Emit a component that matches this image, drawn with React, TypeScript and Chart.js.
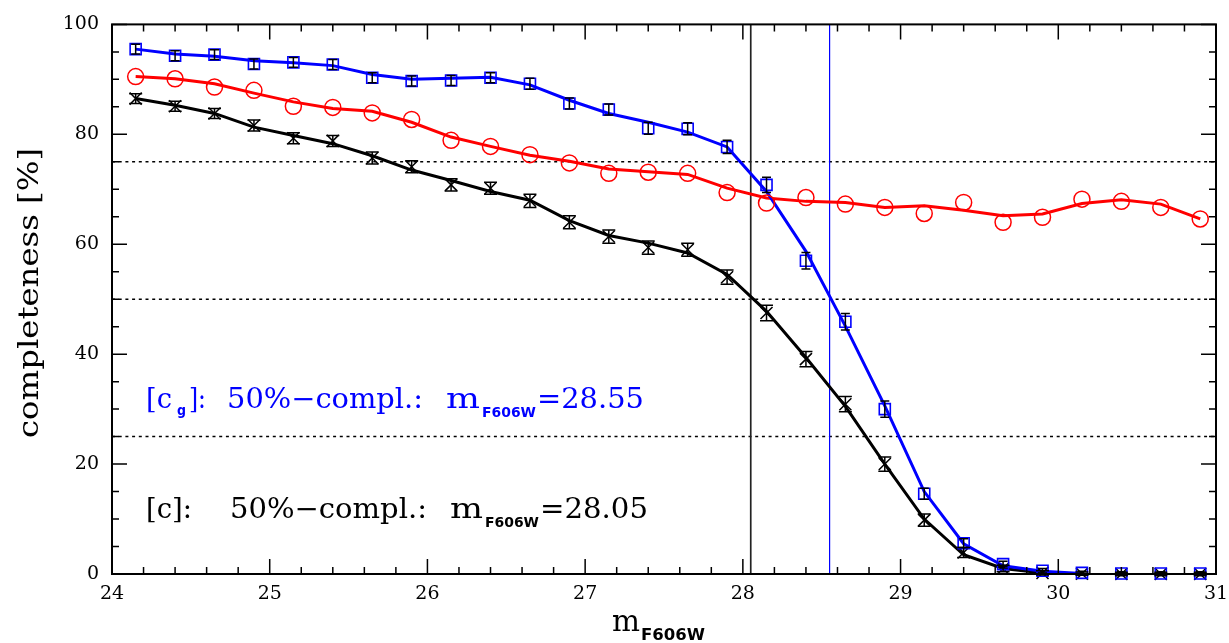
import React, { useEffect, useRef } from "react";
import { Chart, registerables } from "chart.js";
Chart.register(...registerables);

// magnitude bins
const mags = [24.15, 24.4, 24.65, 24.9, 25.15, 25.4, 25.65, 25.9, 26.15, 26.4, 26.65, 26.9, 27.15, 27.4, 27.65, 27.9, 28.15, 28.4, 28.65, 28.9, 29.15, 29.4, 29.65, 29.9, 30.15, 30.4, 30.65, 30.9];

// [c_g] (blue squares)
const blueVals = [95.5, 94.3, 94.5, 92.8, 93.1, 92.7, 90.3, 89.7, 89.8, 90.3, 89.2, 85.6, 84.5, 81.1, 81.0, 77.7, 70.8, 57.0, 45.9, 30.0, 14.6, 5.6, 1.8, 0.6, 0.2, 0.1, 0.1, 0.1];
const blueErr = [0.9, 0.9, 0.9, 0.9, 0.9, 0.9, 0.9, 0.9, 0.9, 0.9, 1.0, 1.0, 1.0, 1.1, 1.1, 1.2, 1.4, 1.5, 1.5, 1.5, 1.0, 0.8, 0.5, 0.4, 0.3, 0.3, 0.3, 0.3];
const blueCurve: (number | null)[] = [95.5, 94.6, 94.2, 93.4, 93.0, 92.5, 90.9, 90.0, 90.2, 90.4, 89.0, 86.2, 83.8, 82.2, 80.4, 77.7, 69.6, 58.7, 45.1, 30.6, 15.0, 5.5, 1.5, 0.5, 0.1, null, null, null];

// second sample (red circles)
const redVals = [90.5, 90.1, 88.6, 88.0, 85.1, 84.9, 83.9, 82.7, 78.9, 77.8, 76.3, 74.8, 72.9, 73.1, 72.9, 69.4, 67.5, 68.5, 67.3, 66.7, 65.6, 67.6, 64.0, 64.9, 68.2, 67.8, 66.7, 64.6];
const redCurve: (number | null)[] = [90.5, 90.1, 89.2, 87.5, 85.9, 84.7, 84.2, 82.2, 79.5, 77.8, 76.2, 75.1, 73.7, 73.2, 72.7, 70.2, 68.4, 67.8, 67.6, 66.7, 67.0, 66.2, 65.2, 65.5, 67.4, 68.1, 67.3, 64.6];

// [c] (black crosses)
const blackVals = [86.5, 85.1, 83.8, 81.6, 79.3, 78.8, 75.7, 74.1, 70.8, 70.2, 67.9, 64.0, 61.4, 59.4, 59.0, 54.0, 47.5, 39.1, 30.9, 20.0, 9.8, 3.9, 1.0, 0.2, 0.05, 0, 0, 0];
const blackErr = [0.9, 0.9, 0.9, 1.0, 1.0, 1.0, 1.1, 1.1, 1.1, 1.1, 1.2, 1.2, 1.2, 1.2, 1.2, 1.3, 1.4, 1.4, 1.4, 1.3, 1.1, 0.9, 0.6, 0.4, 0.3, 0.3, 0.3, 0.3];
const blackCurve: (number | null)[] = [86.5, 85.3, 83.8, 81.3, 79.8, 78.3, 76.1, 73.5, 71.6, 69.6, 68.0, 64.3, 61.6, 60.2, 58.4, 54.5, 47.8, 39.4, 30.5, 20.0, 10.0, 3.5, 1.0, 0.2, 0, null, null, null];

const hLines = [25, 50, 75];
const mag50Black = 28.05;
const mag50Blue = 28.55;
const xMin = 24, xMax = 31, xMajor = 1, xMinor = 0.2;
const yMin = 0, yMax = 100, yMajor = 20, yMinor = 5;
const xTickLabels = ["24", "25", "26", "27", "28", "29", "30", "31"];

const SERIF = '"DejaVu Serif", serif';
const SANS = '"DejaVu Sans", sans-serif';

// draw text, optionally stretched horizontally to a target width
function seg(ctx: CanvasRenderingContext2D, text: string, x: number, y: number, font: string, color: string, width?: number) {
  ctx.save();
  ctx.font = font;
  ctx.fillStyle = color;
  ctx.textAlign = "left";
  ctx.textBaseline = "alphabetic";
  const w = ctx.measureText(text).width;
  const sx = width ? width / w : 1;
  ctx.translate(x, y);
  ctx.scale(sx, 1);
  ctx.fillText(text, 0, 0);
  ctx.restore();
}

const decorPlugin = {
  id: "decor",
  beforeDatasetsDraw(chart: any) {
    const { ctx, chartArea: a, scales } = chart;
    const xs = scales.x, ys = scales.y;
    ctx.save();
    ctx.strokeStyle = "#000";
    ctx.lineWidth = 1.5;
    ctx.setLineDash([3, 3.7]);
    hLines.forEach((v) => {
      const y = ys.getPixelForValue(v);
      ctx.beginPath();
      ctx.moveTo(a.left, y);
      ctx.lineTo(a.right, y);
      ctx.stroke();
    });
    ctx.setLineDash([]);
    const vb = xs.getPixelForValue(mag50Black);
    ctx.strokeStyle = "#222";
    ctx.lineWidth = 1.7;
    ctx.beginPath();
    ctx.moveTo(vb, a.top);
    ctx.lineTo(vb, a.bottom);
    ctx.stroke();
    const vu = xs.getPixelForValue(mag50Blue);
    ctx.strokeStyle = "#0000ff";
    ctx.lineWidth = 1.2;
    ctx.beginPath();
    ctx.moveTo(vu, a.top);
    ctx.lineTo(vu, a.bottom);
    ctx.stroke();
    ctx.restore();
  },
  afterDatasetsDraw(chart: any) {
    const { ctx, chartArea: a, scales } = chart;
    const xs = scales.x, ys = scales.y;
    ctx.save();
    // error bars
    const drawErr = (vals: number[], errs: number[], cap: number) => {
      ctx.strokeStyle = "#000";
      ctx.lineWidth = 1.5;
      vals.forEach((v, i) => {
        const x = xs.getPixelForValue(mags[i]);
        const y1 = ys.getPixelForValue(v - errs[i]);
        const y2 = ys.getPixelForValue(v + errs[i]);
        ctx.beginPath();
        ctx.moveTo(x, y1);
        ctx.lineTo(x, y2);
        ctx.moveTo(x - cap, y1);
        ctx.lineTo(x + cap, y1);
        ctx.moveTo(x - cap, y2);
        ctx.lineTo(x + cap, y2);
        ctx.stroke();
      });
    };
    drawErr(blueVals, blueErr, 4.5);
    drawErr(blackVals, blackErr, 6.5);

    // frame
    ctx.strokeStyle = "#000";
    ctx.lineWidth = 2;
    ctx.strokeRect(a.left, a.top, a.right - a.left, a.bottom - a.top);
    // ticks
    ctx.lineWidth = 1.5;
    ctx.beginPath();
    for (let k = 0; k <= Math.round((xMax - xMin) / xMinor); k++) {
      const v = xMin + k * xMinor;
      const major = Math.abs(v - Math.round(v / xMajor) * xMajor) < 1e-6;
      const len = major ? 15 : 7;
      const x = xs.getPixelForValue(v);
      ctx.moveTo(x, a.bottom);
      ctx.lineTo(x, a.bottom - len);
      ctx.moveTo(x, a.top);
      ctx.lineTo(x, a.top + len);
    }
    for (let k = 0; k <= Math.round((yMax - yMin) / yMinor); k++) {
      const v = yMin + k * yMinor;
      const major = v % yMajor === 0;
      const len = major ? 15 : 7;
      const y = ys.getPixelForValue(v);
      ctx.moveTo(a.left, y);
      ctx.lineTo(a.left + len, y);
      ctx.moveTo(a.right, y);
      ctx.lineTo(a.right - len, y);
    }
    ctx.stroke();

    // x tick labels
    ctx.save();
    ctx.font = `19px ${SERIF}`;
    ctx.fillStyle = "#000";
    ctx.textAlign = "center";
    ctx.textBaseline = "middle";
    xTickLabels.forEach((t) => {
      ctx.fillText(t, xs.getPixelForValue(Number(t)), a.bottom + 20);
    });
    ctx.restore();

    // annotations
    const F = `28px ${SERIF}`;
    const SB = `bold 14px ${SANS}`;
    const blue = "#0000ff";
    seg(ctx, "[c", 146, 408, F, blue, 26);
    seg(ctx, "g", 177, 415, SB, blue, 9);
    seg(ctx, "]:", 189, 408, F, blue, 17);
    seg(ctx, "50%\u2212compl.:", 227, 408, F, blue, 196);
    seg(ctx, "m", 446, 408, F, blue, 34);
    seg(ctx, "F606W", 482, 417, SB, blue, 54);
    seg(ctx, "=28.55", 537, 408, F, blue, 107);

    seg(ctx, "[c]:", 146, 518, F, "#000", 46);
    seg(ctx, "50%\u2212compl.:", 230, 518, F, "#000", 197);
    seg(ctx, "m", 450, 518, F, "#000", 33);
    seg(ctx, "F606W", 485, 527, SB, "#000", 54);
    seg(ctx, "=28.05", 540, 518, F, "#000", 108);

    // axis titles
    seg(ctx, "m", 612, 631, `29px ${SERIF}`, "#000", 28);
    seg(ctx, "F606W", 641, 640, `bold 15px ${SANS}`, "#000", 64);

    ctx.save();
    ctx.translate(38, 293);
    ctx.rotate(-Math.PI / 2);
    ctx.font = `27px ${SERIF}`;
    const tw = ctx.measureText("completeness [%]").width;
    ctx.scale(290 / tw, 1);
    ctx.fillStyle = "#000";
    ctx.textAlign = "center";
    ctx.textBaseline = "alphabetic";
    ctx.fillText("completeness [%]", 0, 0);
    ctx.restore();

    ctx.restore();
  },
};

const pts = (vals: (number | null)[]) => mags.map((m, i) => ({ x: m, y: vals[i] }));

export default function App() {
  const ref = useRef<HTMLCanvasElement | null>(null);
  useEffect(() => {
    if (!ref.current) return;
    const chart = new Chart(ref.current, {
      type: "line",
      data: {
        datasets: [
          { data: pts(blueCurve), borderColor: "#0000ff", borderWidth: 3, pointRadius: 0, tension: 0, spanGaps: false, order: 2 } as any,
          { data: pts(redCurve), borderColor: "#ff0000", borderWidth: 3, pointRadius: 0, tension: 0, order: 2 } as any,
          { data: pts(blackCurve), borderColor: "#000000", borderWidth: 3, pointRadius: 0, tension: 0, spanGaps: false, order: 2 } as any,
          { data: pts(blueVals), showLine: false, pointStyle: "rect", pointRadius: 7.8, pointBorderColor: "#0000ff", pointBackgroundColor: "rgba(0,0,0,0)", pointBorderWidth: 1.6, clip: false, order: 1 } as any,
          { data: pts(redVals), showLine: false, pointStyle: "circle", pointRadius: 8, pointBorderColor: "#ff0000", pointBackgroundColor: "rgba(0,0,0,0)", pointBorderWidth: 1.5, clip: false, order: 1 } as any,
          { data: pts(blackVals), showLine: false, pointStyle: "crossRot", pointRadius: 8.5, pointBorderColor: "#000000", pointBorderWidth: 1.5, clip: false, order: 1 } as any,
        ],
      },
      options: {
        responsive: false,
        animation: false,
        events: [],
        layout: { padding: { left: 0, right: 13, top: 22, bottom: 0 } },
        plugins: { legend: { display: false }, tooltip: { enabled: false } },
        scales: {
          x: {
            type: "linear",
            min: xMin,
            max: xMax,
            grid: { display: false, drawTicks: false },
            border: { display: false },
            ticks: { display: false, stepSize: xMajor },
            afterFit: (s: any) => { s.height = 69; s.paddingLeft = 0; s.paddingRight = 0; },
          },
          y: {
            type: "linear",
            min: yMin,
            max: yMax,
            grid: { display: false, drawTicks: false },
            border: { display: false },
            ticks: { stepSize: yMajor, padding: 13, color: "#000", font: { family: "DejaVu Serif", size: 19 } },
            afterFit: (s: any) => { s.width = 112; },
          },
        },
      } as any,
      plugins: [decorPlugin],
    });
    return () => chart.destroy();
  }, []);
  return (
    <div style={{ position: "fixed", left: 0, top: 0, width: 1229, height: 643, background: "#fff" }}>
      <canvas ref={ref} width={1229} height={643} style={{ display: "block", width: 1229, height: 643 }} />
    </div>
  );
}
